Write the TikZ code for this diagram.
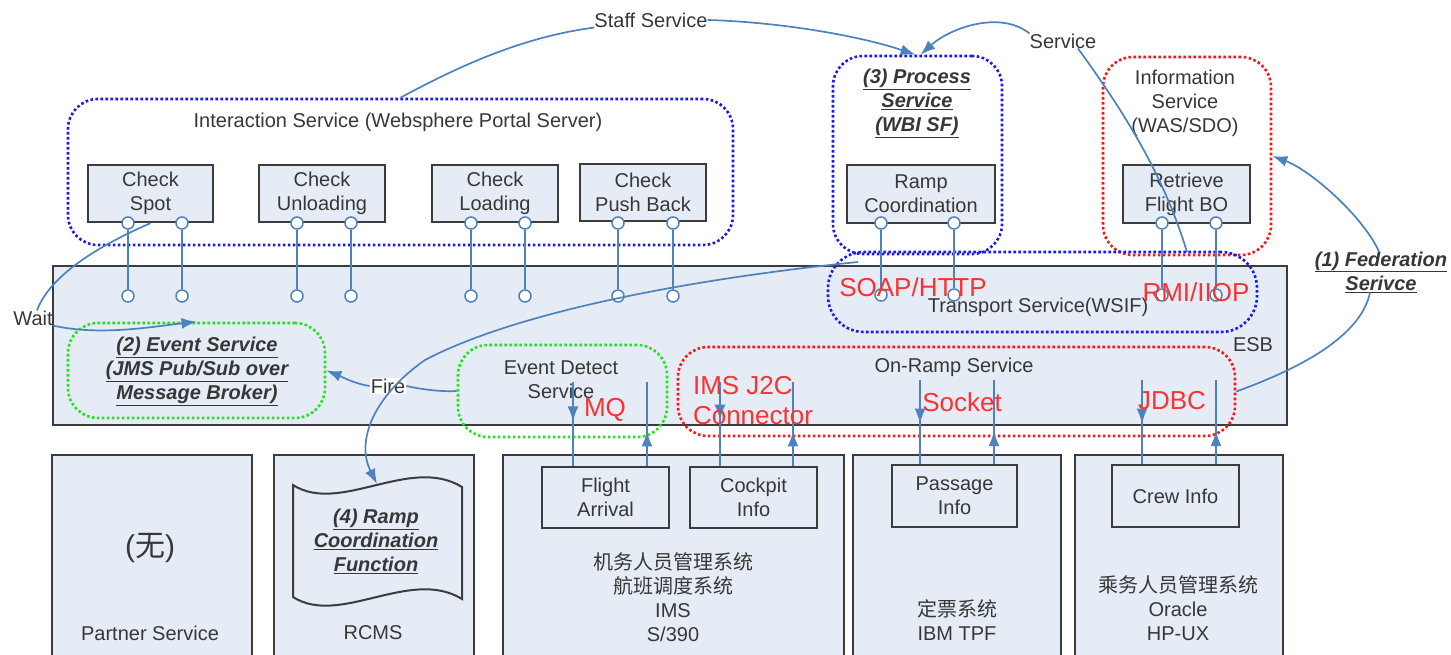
\documentclass[tikz,border=0pt]{standalone}
\usepackage{fontspec}
\setmainfont{Liberation Sans}
\newfontfamily\cjkfont{Noto Sans CJK SC}
\usetikzlibrary{arrows.meta,decorations.markings}

\definecolor{esbfill}{RGB}{230,236,245}
\definecolor{lineblue}{RGB}{79,129,189}
\definecolor{dotblue}{RGB}{25,25,240}
\definecolor{dotred}{RGB}{245,25,25}
\definecolor{dotgreen}{RGB}{35,225,35}
\definecolor{protored}{RGB}{250,50,50}
\definecolor{ink}{RGB}{55,55,55}
\definecolor{frame}{RGB}{60,60,60}

\begin{document}
\begin{tikzpicture}[x=1pt,y=-1pt,
  every node/.style={font=\fontsize{20}{24}\selectfont, text=ink, align=center, inner sep=0pt},
  sysbox/.style={draw=frame, line width=2pt, fill=esbfill},
  appbox/.style={draw=frame, line width=2.4pt, fill=esbfill},
  zone/.style={line width=2.6pt, dash pattern=on 2.6pt off 2.4pt, rounded corners=30pt},
  bluezone/.style={zone, draw=dotblue},
  redzone/.style={zone, draw=dotred},
  greenzone/.style={zone, draw=dotgreen},
  port/.style={circle, draw=lineblue, fill=white, line width=1.5pt, minimum size=12pt, inner sep=0pt},
  conn/.style={draw=lineblue, line width=1.7pt},
  tipped/.style={conn, -{Latex[length=15pt,width=11pt]}},
  midtip/.style={postaction={decorate}, decoration={markings,
      mark=at position #1 with {\arrow[lineblue]{Latex[length=15pt,width=11pt]}}}},
  proto/.style={text=protored, font=\fontsize{26}{30}\selectfont},
  keylab/.style={font=\fontsize{20}{24}\selectfont\bfseries\itshape},
  tag/.style={fill=white, inner sep=1pt}
]
\useasboundingbox (0,0) rectangle (1451,655);

% ---------- enterprise service bus ----------
\node[sysbox, minimum width=1234pt, minimum height=159pt] (esb) at (670,345.5) {};
\node (esblab) at (1253,345) {ESB};

% ---------- back-end systems ----------
\node[sysbox, minimum width=200pt, minimum height=210pt] (partner) at (152,560) {};
\node[sysbox, minimum width=200pt, minimum height=210pt] (rcms) at (374,560) {};
\node[sysbox, minimum width=341pt, minimum height=210pt] (ims) at (673.5,560) {};
\node[sysbox, minimum width=208pt, minimum height=210pt] (tpf) at (957,560) {};
\node[sysbox, minimum width=208pt, minimum height=210pt] (ora) at (1179,560) {};

\node (none) at (150,548) {\fontsize{30}{34}\selectfont({\cjkfont 无})};
\node (partnerlab) at (150,633) {Partner Service};
\node (rcmslab) at (373,633) {RCMS};
\node (imslab) at (673,597) {{\cjkfont 机务人员管理系统}\\{\cjkfont 航班调度系统}\\IMS\\S/390};
\node (tpflab) at (957,620) {{\cjkfont 定票系统}\\IBM TPF};
\node (oralab) at (1178,608) {{\cjkfont 乘务人员管理系统}\\Oracle\\HP-UX};

% punched-tape function shape inside RCMS
\draw[line width=2pt, draw=frame, fill=esbfill]
  (293,485) .. controls (340,515) and (410,455) .. (462,487) -- (462,599)
  .. controls (410,567) and (340,627) .. (293,597) -- cycle;
\coordinate (doctop) at (377,484);
\node[keylab] (rcf) at (376,541) {\underline{(4) Ramp}\\\underline{Coordination}\\\underline{Function}};

\node[appbox, minimum width=127pt, minimum height=61pt] (flight) at (605.5,497.5) {Flight\\Arrival};
\node[appbox, minimum width=127pt, minimum height=61pt] (cockpit) at (753.5,497.5) {Cockpit\\Info};
\node[appbox, minimum width=125pt, minimum height=62pt] (passage) at (954.5,496) {Passage\\Info};
\node[appbox, minimum width=127pt, minimum height=62pt] (crew) at (1175.5,496) {Crew Info};

% ---------- service zones ----------
\node[bluezone, minimum width=665pt, minimum height=146pt] (inter) at (400.5,172) {};
\node (interlab) at (398,122) {Interaction Service (Websphere Portal Server)};

\node[appbox, minimum width=125pt, minimum height=57pt] (spot) at (150.5,193.5) {Check\\Spot};
\node[appbox, minimum width=126pt, minimum height=57pt] (unload) at (322,193.5) {Check\\Unloading};
\node[appbox, minimum width=126pt, minimum height=57pt] (load) at (495,193.5) {Check\\Loading};
\node[appbox, minimum width=126pt, minimum height=57pt] (push) at (643,192.5) {Check\\Push Back};

\node[bluezone, minimum width=169pt, minimum height=198pt] (proc) at (917.5,155) {};
\node[keylab] (proclab) at (917,103) {\underline{(3) Process}\\\underline{Service}\\\underline{(WBI SF)}};
\node[appbox, minimum width=148pt, minimum height=58pt] (ramp) at (921,194) {Ramp\\Coordination};

\node[redzone, minimum width=168pt, minimum height=198pt] (info) at (1187,156) {};
\node (infolab) at (1185,103) {Information\\Service\\(WAS/SDO)};
\node[appbox, minimum width=127pt, minimum height=58pt] (retr) at (1186.5,194) {Retrieve\\Flight BO};

\node[bluezone, rounded corners=36pt, minimum width=429pt, minimum height=80pt] (tr) at (1042.5,292) {};
\node (trlab) at (1038,307) {Transport Service(WSIF)};

\node[redzone, minimum width=557pt, minimum height=89pt] (onr) at (956.5,391.5) {};
\node (onrlab) at (954,367) {On-Ramp Service};

\node[greenzone, minimum width=209pt, minimum height=92pt] (evd) at (562.5,391) {};
\node (evdlab) at (561,380) {Event Detect\\Service};

\node[greenzone, minimum width=257pt, minimum height=95pt] (evs) at (196.5,370.5) {};
\node[keylab] (evslab) at (197,371) {\underline{(2) Event Service}\\\underline{(JMS Pub/Sub over}\\\underline{Message Broker)}};

% ---------- portal ports into the bus ----------
\foreach \px [count=\i] in {128,182,297,351,471,525,618,673} {
  \node[port] (pt\i) at (\px,223) {};
  \node[port] (pb\i) at (\px,296) {};
  \draw[conn] (pt\i) -- (pb\i);
}
\foreach \px [count=\i] in {881,954,1162,1216} {
  \node[port] (qt\i) at (\px,223) {};
  \node[port] (qb\i) at (\px,295) {};
  \draw[conn] (qt\i) -- (qb\i);
}

% ---------- adapters between bus and back ends ----------
\coordinate (mqa) at (573,382);  \coordinate (mqb) at (647,382);
\coordinate (jca) at (720,382);  \coordinate (jcb) at (793,382);
\coordinate (ska) at (920,380);  \coordinate (skb) at (994,380);
\coordinate (jda) at (1142,380); \coordinate (jdb) at (1216,380);
\draw[conn, midtip=0.47] (mqa) -- (mqa |- flight.north);
\draw[conn, midtip=0.41] (mqb |- flight.north) -- (mqb);
\draw[conn, midtip=0.45] (jca) -- (jca |- cockpit.north);
\draw[conn, midtip=0.41] (jcb |- cockpit.north) -- (jcb);
\draw[conn, midtip=0.52] (ska) -- (ska |- passage.north);
\draw[conn, midtip=0.39] (skb |- passage.north) -- (skb);
\draw[conn, midtip=0.52] (jda) -- (jda |- crew.north);
\draw[conn, midtip=0.39] (jdb |- crew.north) -- (jdb);

% protocol labels
\node[proto] (soap) at (913,287) {SOAP/HTTP};
\node[proto] (rmi) at (1196,292) {RMI/IIOP};
\node[proto] (mq) at (605,410) {MQ};
\node[proto, align=left] (j2c) at (753,401) {IMS J2C\\Connector};
\node[proto] (sock) at (962,402) {Socket};
\node[proto] (jdbc) at (1172,401) {JDBC};

% ---------- service interactions ----------
\node (staff) at (651,20) {Staff Service};
\draw[conn] (inter.north) .. controls (470,60) and (530,36) .. (staff.south west);
\draw[tipped] (staff.east) .. controls (780,22) and (860,36) .. ([xshift=-2pt]proc.north);

\node (svc) at (1063,41) {Service};
\draw[tipped] (svc.north west) .. controls (1000,10) and (950,28) .. ([xshift=3pt]proc.north);
\coordinate (svcend) at (1187,252);
\draw[conn] ([xshift=15pt]svc.south) .. controls (1130,120) and (1165,180) .. (svcend);

\node[keylab] (fed) at (1381,272) {\underline{(1) Federation}\\\underline{Serivce}};
\draw[tipped] ([xshift=-2pt]fed.north) .. controls (1362,215) and (1310,170) .. (info.east);
\draw[conn] ([xshift=-11pt]fed.south) .. controls (1360,340) and (1290,372) .. (onr.east);

\node (wait) at (33,318) {Wait};
\draw[conn] (spot.south) .. controls (100,245) and (50,275) .. ([xshift=4pt]wait.north);
\draw[tipped] (wait.south east) .. controls (100,336) and (150,327) .. (evs.north);

\node[tag] (fire) at (388,386) {Fire};
\draw[conn] (evd.west) .. controls (440,392) and (420,389) .. (fire.east);
\draw[tipped] (fire.west) .. controls (355,384) and (340,376) .. (evs.east);

\coordinate (rcstart) at (858,262);
\coordinate (rcbend) at (425,360);
\draw[tipped] (rcstart) .. controls (700,278) and (520,310) .. (rcbend)
  .. controls (375,395) and (355,440) .. (doctop);

\end{tikzpicture}
\end{document}
